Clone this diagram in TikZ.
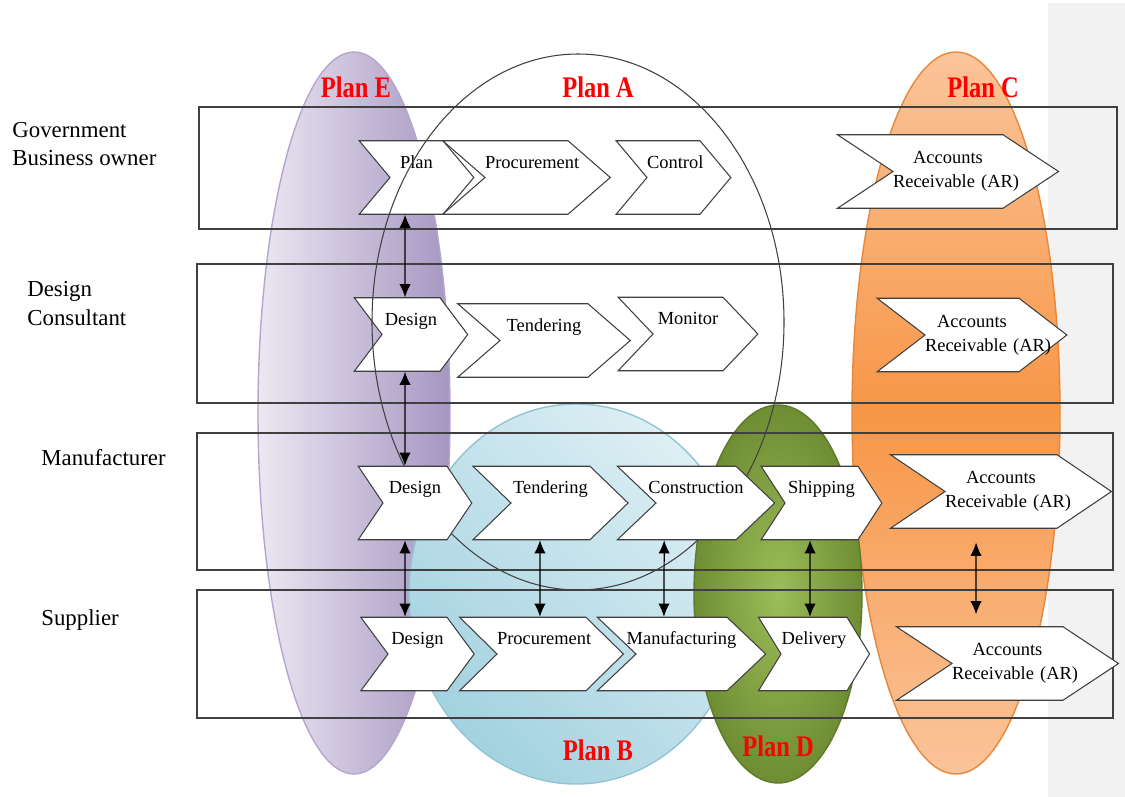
\documentclass[tikz,border=0pt]{standalone}
\usepackage{fontspec}
\setmainfont{Liberation Serif}
\usetikzlibrary{shapes.symbols,arrows.meta}

\definecolor{planE}{HTML}{A696C2}
\definecolor{planElight}{HTML}{ECE8F2}
\definecolor{planEline}{HTML}{B4A6CF}
\definecolor{planB}{HTML}{A3D2E0}
\definecolor{planBlight}{HTML}{DDEFF4}
\definecolor{planBline}{HTML}{93C4D4}
\definecolor{planD}{HTML}{6F8D33}
\definecolor{planDlight}{HTML}{9CBD5A}
\definecolor{planDline}{HTML}{5E7A2A}
\definecolor{planC}{HTML}{F79646}
\definecolor{planClight}{HTML}{FBC49A}
\definecolor{planCline}{HTML}{E8873A}
\definecolor{band}{HTML}{F2F2F2}
\definecolor{edge}{HTML}{404040}

\tikzset{
  chev/.style={signal, signal from=west, signal to=east, draw=edge, line width=0.6pt,
    fill=white, inner xsep=0pt, inner ysep=0pt, minimum height=1.47cm, align=center,
    font=\fontsize{10.5}{13.6}\selectfont},
  chevtop/.style={chev, text height=8pt, text depth=18.4pt},
  lane/.style={draw=edge, line width=0.7pt},
  role/.style={anchor=west, inner sep=0pt, align=left, font=\fontsize{13}{16}\selectfont},
  plan/.style={text=red, inner sep=0pt, font=\fontsize{17}{20}\selectfont\bfseries},
  link/.style={<->, >={Latex[length=7.5pt,width=6.5pt]}, line width=0.7pt},
}

\begin{document}
\begin{tikzpicture}[x=0.02cm, y=-0.02cm]
  \useasboundingbox (0,0) rectangle (1125,797);
  \fill[band] (1048,3) rectangle (1125,797);

  % plans
  \shadedraw[left color=planElight, right color=planE, draw=planEline, line width=0.8pt]
    (354,413) ellipse [x radius=96, y radius=361];
  \shadedraw[top color=planClight, bottom color=planClight, middle color=planC, draw=planCline, line width=0.8pt]
    (956,413) ellipse [x radius=104, y radius=361];
  \shadedraw[left color=planB, right color=planBlight, shading angle=135, draw=planBline, line width=0.8pt]
    (576,594) ellipse [x radius=167, y radius=190];
  \shadedraw[inner color=planDlight, outer color=planD, draw=planDline, line width=0.8pt]
    (778,594) ellipse [x radius=84, y radius=189];

  % lanes
  \draw[lane] (199,107) rectangle (1117,229);
  \draw[lane] (197,264) rectangle (1113,403);
  \draw[lane] (197,433) rectangle (1113,570);
  \draw[lane] (197,590) rectangle (1113,718);

  % government
  \node[chevtop, text width=1.06cm, signal pointer angle=100] (govPlan) at (416.5,177.5) {Plan};
  \node[chevtop, text width=1.66cm, signal pointer angle=82] (govProc) at (526.5,177.5) {Procurement};
  \node[chevtop, text width=1.06cm, signal pointer angle=100] (govCtrl) at (673.5,177.5) {Control};
  \node[chev, text width=2.2cm, signal pointer angle=67] (govAR) at (948,171.5) {Accounts\\\mbox{Receivable (AR)}};

  % design consultant
  \node[chevtop, text width=1.16cm, signal pointer angle=106] (dcDesign) at (411,334.5) {Design};
  \node[chevtop, text width=1.76cm, signal pointer angle=82] (dcTend) at (544,340.5) {Tendering};
  \node[chevtop, text width=1.4cm, signal pointer angle=93] (dcMon) at (688,334) {Monitor};
  \node[chev, text width=1.88cm, signal pointer angle=75] (dcAR) at (972,335) {Accounts\\\mbox{Receivable (AR)}};

  % plan A
  \draw[edge, line width=0.6pt] (578,322) ellipse [x radius=206, y radius=268];

  % manufacturer
  \node[chevtop, text width=1.28cm, signal pointer angle=112] (mfDesign) at (415,503) {Design};
  \node[chevtop, text width=1.58cm, signal pointer angle=88] (mfTend) at (550.5,503) {Tendering};
  \node[chevtop, text width=1.6cm, signal pointer angle=87] (mfCons) at (696,503) {\makebox[0pt]{Construction}};
  \node[chevtop, text width=1.46cm, signal pointer angle=114] (mfShip) at (821.5,503) {Shipping};
  \node[chev, text width=2.24cm, signal pointer angle=68] (mfAR) at (1001,491.5) {Accounts\\\mbox{Receivable (AR)}};

  % supplier
  \node[chevtop, text width=1.18cm, signal pointer angle=107] (spDesign) at (417.5,654) {Design};
  \node[chevtop, text width=1.78cm, signal pointer angle=89] (spProc) at (541.5,654) {Procurement};
  \node[chevtop, text width=1.82cm, signal pointer angle=87] (spManu) at (681.5,654) {\makebox[0pt]{Manufacturing}};
  \node[chevtop, text width=1.32cm, signal pointer angle=117] (spDel) at (814,654) {Delivery};
  \node[chev, text width=2.22cm, signal pointer angle=67] (spAR) at (1007.5,663.5) {Accounts\\\mbox{Receivable (AR)}};

  % links
  \draw[link] ([xshift=-6.5pt]govPlan.south) -- ([xshift=-3.4pt]dcDesign.north);
  \draw[link] ([xshift=-3.4pt]dcDesign.south) -- ([xshift=-5.7pt]mfDesign.north);
  \draw[link] ([xshift=-5.7pt]mfDesign.south) -- ([xshift=-7.1pt]spDesign.north);
  \draw[link] ([xshift=-6pt]mfTend.south) -- ([xshift=-0.9pt]spProc.north);
  \draw[link] ([xshift=-18.1pt]mfCons.south) -- ([xshift=-10pt]spManu.north);
  \draw[link] ([xshift=-6.5pt]mfShip.south) -- ([xshift=-2.3pt]spDel.north);
  \draw[link, shorten <=7.9pt, shorten >=6.8pt] ([xshift=-14.2pt]mfAR.south) -- ([xshift=-17.9pt]spAR.north);

  % roles
  \node[role] (gov) at (12,144) {Government\\Business owner};
  \node[role] (dc) at (27,303.5) {Design\\Consultant};
  \node[role] (mf) at (41,458) {Manufacturer};
  \node[role] (sp) at (41,620) {Supplier};

  % plan names
  \node[plan] (nameE) at (356,87) {\scalebox{0.82}[1]{Plan E}};
  \node[plan] (nameA) at (598,87) {\scalebox{0.82}[1]{Plan A}};
  \node[plan] (nameC) at (983,87) {\scalebox{0.82}[1]{Plan C}};
  \node[plan] (nameB) at (598,750) {\scalebox{0.82}[1]{Plan B}};
  \node[plan] (nameD) at (778,746) {\scalebox{0.82}[1]{Plan D}};
\end{tikzpicture}
\end{document}
